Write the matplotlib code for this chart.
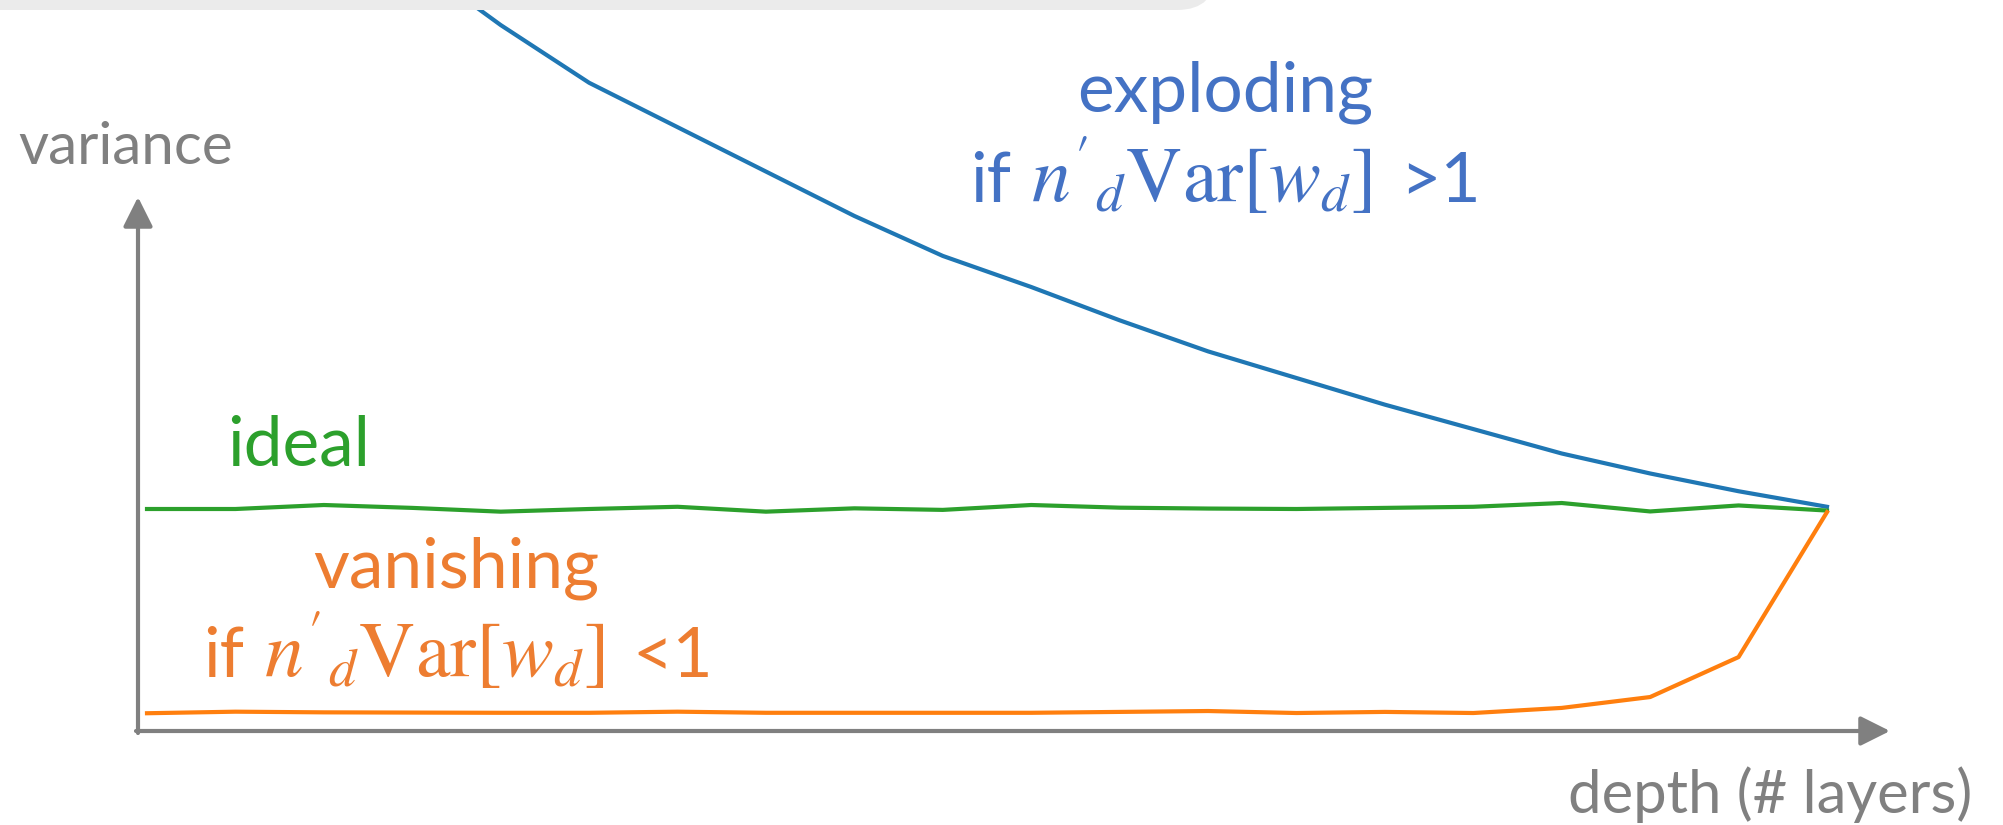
import matplotlib
matplotlib.use("Agg")
import matplotlib.pyplot as plt
from matplotlib.patches import FancyBboxPatch
from matplotlib.transforms import IdentityTransform

plt.rcParams['font.family'] = ['Lato', 'DejaVu Sans']
plt.rcParams['mathtext.fontset'] = 'stix'

# depth index (layers) and variance per layer
depth = list(range(20))
exploding = [4.55, 4.15, 3.79, 3.47, 3.18, 2.92, 2.72, 2.52, 2.32, 2.14,
             2.00, 1.85, 1.71, 1.59, 1.47, 1.36, 1.25, 1.16, 1.08, 1.01]
ideal = [1.00, 1.00, 1.018, 1.005, 0.988, 1.00, 1.010, 0.988, 1.003, 0.996,
         1.018, 1.006, 1.002, 1.00, 1.005, 1.010, 1.027, 0.989, 1.016, 0.993]
vanishing = [0.080, 0.087, 0.084, 0.083, 0.082, 0.082, 0.087, 0.082, 0.082, 0.082,
             0.082, 0.086, 0.090, 0.081, 0.086, 0.081, 0.104, 0.153, 0.333, 0.986]

W, H = 2003, 825
gray = '#808080'
blue_t = '#4472c4'
orange_t = '#ed7d31'
cond = r"${n'}_{d}\mathrm{Var}[w_{d}]$"

fig = plt.figure(figsize=(W / 100, H / 100), dpi=100)
ax = fig.add_axes([0, 0, 1, 1])
ax.set_axis_off()
# x: layer 0 at 147px, layer 19 at 1827px ; y: 0 at 731px, 1 at 509px (from top)
ax.set_xlim(-147 / 88.42, 19 + (W - 1827) / 88.42)
ax.set_ylim((731 - H) / 222, 731 / 222)

ax.plot(depth, exploding, color='#1f77b4', lw=3.0)
ax.plot(depth, ideal, color='#2ca02c', lw=3.0)
ax.plot(depth, vanishing, color='#ff7f0e', lw=3.0)

# axes arrows (figure pixels, origin bottom-left)
arrow = dict(arrowstyle='-|>,head_length=0.9,head_width=0.45', lw=3.0, color=gray,
             mutation_scale=20, shrinkA=0, shrinkB=0)
ax.annotate('', xy=(138, H - 197), xytext=(138, H - 733), xycoords='figure pixels',
            textcoords='figure pixels', arrowprops=arrow)
ax.annotate('', xy=(1890, H - 731), xytext=(136, H - 731), xycoords='figure pixels',
            textcoords='figure pixels', arrowprops=arrow)

# gray bar at the top edge
bar = FancyBboxPatch((-100, H - 10), 1216 + 100, 100,
                     boxstyle='round,pad=0,rounding_size=39',
                     transform=IdentityTransform(), facecolor='#ebebeb',
                     edgecolor='none', zorder=5)
fig.add_artist(bar)


def px(x, y):
    return x / W, 1 - y / H


def cond_line(xc, y, sign, color):
    # "if", the formula and the ">1"/"<1" drawn as separate pieces, centred on xc
    parts = [('if', 50, 0), (cond, 56, 20), (sign, 50, 28)]
    r = fig.canvas.get_renderer()
    texts, widths = [], []
    for s, size, gap in parts:
        t = fig.text(0, 0, s, color=color, fontsize=size, va='baseline', ha='left')
        texts.append(t)
        widths.append(t.get_window_extent(r).width)
    total = sum(widths) + sum(p[2] for p in parts)
    x = xc - total / 2
    for t, w, (s, size, gap) in zip(texts, widths, parts):
        x += gap
        t.set_position(px(x, y))
        x += w


fig.text(*px(18, 164), 'variance', color=gray, fontsize=42, va='baseline', ha='left')
fig.text(*px(1972, 813), 'depth (# layers)', color=gray, fontsize=43, va='baseline', ha='right')

fig.text(*px(1225, 112), 'exploding', color=blue_t, fontsize=50, va='baseline', ha='center')
cond_line(1225, 202, '>1', blue_t)
fig.text(*px(227, 466), 'ideal', color='#2ca02c', fontsize=50, va='baseline', ha='left')
fig.text(*px(456, 587), 'vanishing', color=orange_t, fontsize=50, va='baseline', ha='center')
cond_line(458, 677, '<1', orange_t)

fig.savefig('out.png', dpi=100)
